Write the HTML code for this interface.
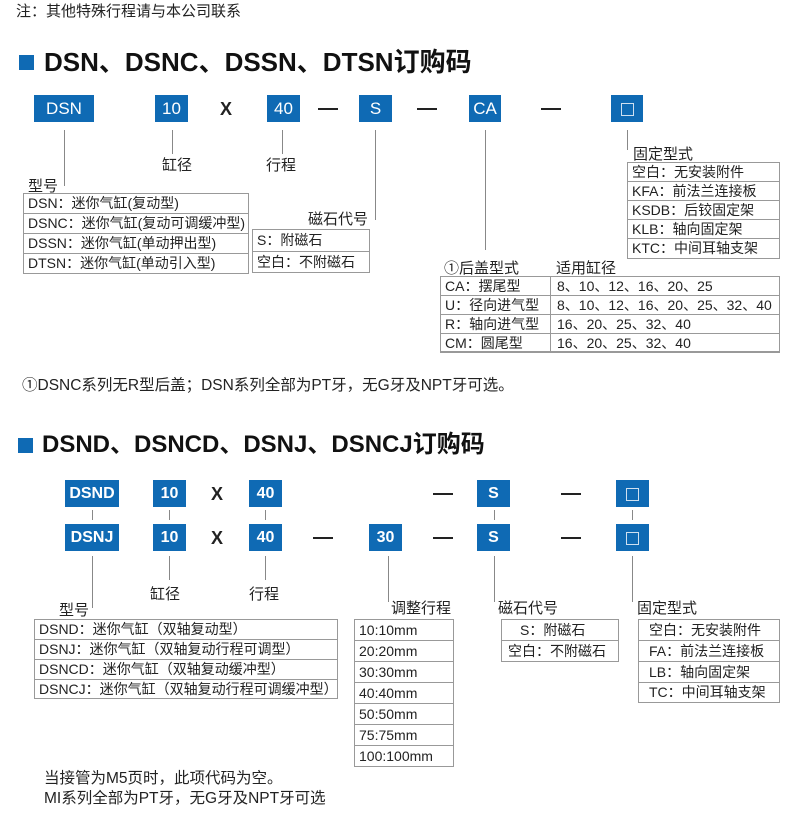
<!DOCTYPE html>
<html><head><meta charset="utf-8">
<style>
*{margin:0;padding:0;box-sizing:border-box}
body{width:800px;height:831px;background:#fff;position:relative;overflow:hidden;font-family:"Liberation Sans","Noto Sans CJK SC",sans-serif;color:#222}
.a{position:absolute;white-space:nowrap}
.t{font-size:14.5px;line-height:16px}
.l{font-size:15px}
.h{font-size:26px;font-weight:bold;line-height:30px;color:#111}
.sq{position:absolute;background:#0f6ab4;width:15px;height:15px}
.b{position:absolute;background:#0f6ab4;color:#fff;text-align:center;font-size:17px;line-height:27px;height:27px}
.bb{font-weight:bold}
.v{position:absolute;width:1px;background:#888}
.x{position:absolute;font-size:18px;font-weight:bold;line-height:20px}
.d{position:absolute;height:2px;background:#222;width:20px}
.tb{position:absolute;border:1px solid #999}
.tb div{border-bottom:1px solid #999;font-size:14px;padding-left:4px;white-space:nowrap;overflow:hidden}
.tb div:last-child{border-bottom:none}
.box{display:inline-block;width:13px;height:13px;border:1px solid #cfe0f0;vertical-align:middle}
</style></head><body>
<div class="a t" style="left:16px;top:4px;font-size:15px">注：其他特殊行程请与本公司联系</div>
<div class="sq" style="left:19px;top:55px"></div>
<div class="a h" style="left:44px;top:47px">DSN、DSNC、DSSN、DTSN订购码</div>

<div class="b" style="left:34px;top:95px;width:60px">DSN</div>
<div class="b" style="left:155px;top:95px;width:33px">10</div>
<div class="x" style="left:220px;top:99px">X</div>
<div class="b" style="left:267px;top:95px;width:33px">40</div>
<div class="d" style="left:318px;top:108px"></div>
<div class="b" style="left:359px;top:95px;width:33px">S</div>
<div class="d" style="left:417px;top:108px"></div>
<div class="b" style="left:469px;top:95px;width:32px">CA</div>
<div class="d" style="left:541px;top:108px"></div>
<div class="b" style="left:611px;top:95px;width:32px"><span class="box"></span></div>

<div class="v" style="left:64px;top:130px;height:56px"></div>
<div class="v" style="left:172px;top:130px;height:24px"></div>
<div class="a l" style="left:162px;top:154px">缸径</div>
<div class="v" style="left:282px;top:130px;height:24px"></div>
<div class="a l" style="left:266px;top:154px">行程</div>
<div class="v" style="left:375px;top:130px;height:90px"></div>
<div class="a l" style="left:308px;top:208px">磁石代号</div>
<div class="v" style="left:485px;top:130px;height:120px"></div>
<div class="v" style="left:627px;top:130px;height:20px"></div>
<div class="a l" style="left:633px;top:143px">固定型式</div>

<div class="a l" style="left:28px;top:175px">型号</div>
<div class="tb" style="left:23px;top:193px;width:226px;height:81px">
<div style="height:20px;line-height:19px">DSN：迷你气缸(复动型)</div>
<div style="height:20px;line-height:19px">DSNC：迷你气缸(复动可调缓冲型)</div>
<div style="height:20px;line-height:19px">DSSN：迷你气缸(单动押出型)</div>
<div style="height:19px;line-height:18px">DTSN：迷你气缸(单动引入型)</div>
</div>
<div class="tb" style="left:252px;top:229px;width:118px;height:44px">
<div style="height:22px;line-height:21px">S：附磁石</div>
<div style="height:20px;line-height:20px">空白：不附磁石</div>
</div>
<div class="tb" style="left:627px;top:162px;width:153px;height:97px">
<div style="height:19px;line-height:18px">空白：无安装附件</div>
<div style="height:19px;line-height:18px">KFA：前法兰连接板</div>
<div style="height:19px;line-height:18px">KSDB：后铰固定架</div>
<div style="height:19px;line-height:18px">KLB：轴向固定架</div>
<div style="height:19px;line-height:18px">KTC：中间耳轴支架</div>
</div>
<div class="a l" style="left:444px;top:257px">①后盖型式</div>
<div class="a l" style="left:556px;top:257px">适用缸径</div>
<div class="tb" style="left:440px;top:276px;width:340px;height:77px">
<div style="height:19px;line-height:18px;position:relative">CA：摆尾型<span class="a" style="left:116px">8、10、12、16、20、25</span></div>
<div style="height:19px;line-height:18px;position:relative">U：径向进气型<span class="a" style="left:116px">8、10、12、16、20、25、32、40</span></div>
<div style="height:19px;line-height:18px;position:relative">R：轴向进气型<span class="a" style="left:116px">16、20、25、32、40</span></div>
<div style="height:18px;line-height:18px;position:relative">CM：圆尾型<span class="a" style="left:116px">16、20、25、32、40</span></div>
<span class="v" style="left:109px;top:0;height:75px;background:#999"></span>
</div>
<div class="a t" style="left:22px;top:378px;font-size:15.5px">①DSNC系列无R型后盖；DSN系列全部为PT牙，无G牙及NPT牙可选。</div>

<div class="sq" style="left:18px;top:438px"></div>
<div class="a h" style="left:42px;top:430px;font-size:24px">DSND、DSNCD、DSNJ、DSNCJ订购码</div>

<div class="b bb" style="left:65px;top:480px;width:54px;font-size:16px">DSND</div>
<div class="b bb" style="left:153px;top:480px;width:33px;font-size:16px">10</div>
<div class="x" style="left:211px;top:484px">X</div>
<div class="b bb" style="left:249px;top:480px;width:33px;font-size:16px">40</div>
<div class="d" style="left:433px;top:493px"></div>
<div class="b bb" style="left:477px;top:480px;width:33px;font-size:16px">S</div>
<div class="d" style="left:561px;top:493px"></div>
<div class="b" style="left:616px;top:480px;width:33px"><span class="box"></span></div>

<div class="v" style="left:92px;top:510px;height:10px"></div>
<div class="v" style="left:169px;top:510px;height:10px"></div>
<div class="v" style="left:265px;top:510px;height:10px"></div>
<div class="v" style="left:494px;top:510px;height:10px"></div>
<div class="v" style="left:632px;top:510px;height:10px"></div>

<div class="b bb" style="left:65px;top:524px;width:54px;font-size:16px">DSNJ</div>
<div class="b bb" style="left:153px;top:524px;width:33px;font-size:16px">10</div>
<div class="x" style="left:211px;top:528px">X</div>
<div class="b bb" style="left:249px;top:524px;width:33px;font-size:16px">40</div>
<div class="d" style="left:313px;top:537px"></div>
<div class="b bb" style="left:369px;top:524px;width:33px;font-size:16px">30</div>
<div class="d" style="left:433px;top:537px"></div>
<div class="b bb" style="left:477px;top:524px;width:33px;font-size:16px">S</div>
<div class="d" style="left:561px;top:537px"></div>
<div class="b" style="left:616px;top:524px;width:33px"><span class="box"></span></div>

<div class="v" style="left:92px;top:556px;height:52px"></div>
<div class="v" style="left:169px;top:556px;height:24px"></div>
<div class="a l" style="left:150px;top:583px">缸径</div>
<div class="v" style="left:265px;top:556px;height:24px"></div>
<div class="a l" style="left:249px;top:583px">行程</div>
<div class="v" style="left:388px;top:556px;height:46px"></div>
<div class="a l" style="left:391px;top:597px">调整行程</div>
<div class="v" style="left:494px;top:556px;height:46px"></div>
<div class="a l" style="left:498px;top:597px">磁石代号</div>
<div class="v" style="left:632px;top:556px;height:46px"></div>
<div class="a l" style="left:637px;top:597px">固定型式</div>

<div class="a l" style="left:59px;top:599px">型号</div>
<div class="tb" style="left:34px;top:619px;width:304px;height:80px">
<div style="height:20px;line-height:19px">DSND：迷你气缸（双轴复动型）</div>
<div style="height:20px;line-height:19px">DSNJ：迷你气缸（双轴复动行程可调型）</div>
<div style="height:20px;line-height:19px">DSNCD：迷你气缸（双轴复动缓冲型）</div>
<div style="height:18px;line-height:18px">DSNCJ：迷你气缸（双轴复动行程可调缓冲型）</div>
</div>
<div class="tb" style="left:354px;top:619px;width:100px;height:148px">
<div style="height:21px;line-height:20px">10:10mm</div>
<div style="height:21px;line-height:20px">20:20mm</div>
<div style="height:21px;line-height:20px">30:30mm</div>
<div style="height:21px;line-height:20px">40:40mm</div>
<div style="height:21px;line-height:20px">50:50mm</div>
<div style="height:21px;line-height:20px">75:75mm</div>
<div style="height:20px;line-height:20px">100:100mm</div>
</div>
<div class="tb" style="left:501px;top:619px;width:118px;height:43px">
<div style="height:21px;line-height:20px;padding-left:18px">S：附磁石</div>
<div style="height:20px;line-height:20px;padding-left:6px">空白：不附磁石</div>
</div>
<div class="tb" style="left:638px;top:619px;width:142px;height:84px">
<div style="height:21px;line-height:20px;padding-left:10px">空白：无安装附件</div>
<div style="height:21px;line-height:20px;padding-left:10px">FA：前法兰连接板</div>
<div style="height:21px;line-height:20px;padding-left:10px">LB：轴向固定架</div>
<div style="height:19px;line-height:19px;padding-left:10px">TC：中间耳轴支架</div>
</div>
<div class="a t" style="left:44px;top:771px;font-size:15.5px">当接管为M5页时，此项代码为空。</div>
<div class="a t" style="left:44px;top:791px;font-size:15.5px">MI系列全部为PT牙，无G牙及NPT牙可选</div>
</body></html>
